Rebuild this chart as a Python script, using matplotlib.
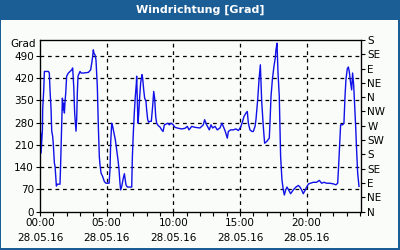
import numpy as np
import matplotlib.pyplot as plt
from matplotlib.patches import Rectangle

# Wind direction over the day (hours since 00:00, degrees on an unwrapped scale)
hours = [0.05, 0.08, 0.18, 0.2, 0.28, 0.33, 0.63, 0.7, 0.75, 0.83, 0.88, 0.95, 1.0, 1.08, 1.13,
         1.18, 1.23, 1.3, 1.5, 1.55, 1.63, 1.68, 1.73, 1.78, 1.83, 1.88, 1.93, 2.0, 2.13, 2.25,
         2.38, 2.45, 2.53, 2.6, 2.7, 2.75, 2.8, 2.85, 3.0, 3.08, 3.25, 3.63, 3.8, 3.88, 3.95,
         4.0, 4.05, 4.13, 4.2, 4.3, 4.38, 4.45, 4.5, 4.58, 4.7, 4.83, 4.95, 5.05, 5.18, 5.25,
         5.3, 5.38, 5.45, 5.55, 5.65, 5.75, 5.85, 5.93, 6.0, 6.05, 6.13, 6.25, 6.33, 6.45, 6.55,
         6.88, 6.93, 7.0, 7.08, 7.15, 7.23, 7.25, 7.35, 7.4, 7.48, 7.55, 7.65, 7.7, 7.78, 7.85,
         7.95, 8.0, 8.08, 8.15, 8.25, 8.35, 8.45, 8.53, 8.6, 8.68, 8.75, 8.88, 9.0, 9.13, 9.23,
         9.33, 9.45, 9.58, 9.7, 9.83, 9.95, 10.13, 10.38, 10.63, 10.88, 11.05, 11.18, 11.38,
         11.63, 12.0, 12.25, 12.35, 12.5, 12.7, 12.83, 12.95, 13.13, 13.3, 13.5, 13.65, 13.75,
         13.9, 14.05, 14.13, 14.3, 14.5, 14.7, 14.88, 15.05, 15.2, 15.3, 15.45, 15.55, 15.63,
         15.75, 15.9, 16.0, 16.13, 16.2, 16.33, 16.43, 16.53, 16.63, 16.75, 16.85, 17.0, 17.2,
         17.25, 17.33, 17.43, 17.55, 17.65, 17.7, 17.78, 17.85, 17.95, 18.0, 18.05, 18.15,
         18.25, 18.33, 18.43, 18.53, 18.65, 18.8, 19.0, 19.2, 19.38, 19.5, 19.63, 19.75, 19.9,
         20.0, 20.15, 20.3, 20.5, 20.75, 20.95, 21.13, 21.3, 21.5, 21.75, 22.0, 22.2, 22.33,
         22.4, 22.48, 22.55, 22.7, 22.8, 22.88, 22.95, 23.05, 23.13, 23.2, 23.3, 23.38, 23.45,
         23.53, 23.6, 23.68, 23.75, 23.83, 23.93]
values = [247, 184, 257, 321, 383, 441, 441, 436, 383, 321, 253, 237, 211, 152, 142,
          111, 80, 86, 86, 152, 278, 357, 320, 341, 310, 347, 373, 426, 436, 441,
          446, 452, 394, 310, 253, 289, 373, 426, 441, 436, 436, 438, 446, 467, 488,
          509, 498, 493, 477, 394, 263, 173, 147, 121, 110, 94, 89, 89, 89, 131,
          215, 278, 268, 247, 226, 194, 163, 131, 89, 68, 79, 105, 119, 84, 77,
          77, 173, 247, 315, 362, 405, 426, 278, 305, 362, 405, 431, 420, 383, 357,
          347, 320, 289, 281, 284, 284, 331, 378, 357, 299, 278, 270, 266, 257, 252,
          273, 275, 278, 273, 278, 275, 265, 262, 260, 262, 268, 257, 268,
          265, 263, 273, 289, 273, 257, 273, 263, 268, 257, 263, 278, 268,
          252, 231, 252, 257, 257, 260, 255, 265, 284, 299, 310, 315, 278,
          257, 252, 252, 268, 289, 352, 415, 462, 347, 268, 215, 220, 231,
          278, 362, 415, 457, 483, 509, 530, 441, 362, 268, 173, 100,
          68, 52, 68, 77, 68, 56, 68, 77, 82, 77, 68, 56, 68,
          77, 87, 89, 92, 92, 98, 89, 92, 89, 89, 87, 84, 89,
          142, 215, 273, 273, 278, 362, 415, 449, 455, 441, 405, 383, 436,
          399, 341, 268, 194, 121, 79]

left_ticks = [0, 70, 140, 210, 280, 350, 420, 490]
right_ticks = [0, 45, 90, 135, 180, 225, 270, 315, 360, 405, 450, 495, 540]
right_labels = ['N', 'NE', 'E', 'SE', 'S', 'SW', 'W', 'NW', 'N', 'NE', 'E', 'SE', 'S']
x_major = [0, 5, 10, 15, 20]
x_labels = ['00:00\n28.05.16', '05:00\n28.05.16', '10:00\n28.05.16',
            '15:00\n28.05.16', '20:00\n28.05.16']

frame_blue = '#1B5E95'
bg = '#FAFCFA'

fig = plt.figure(figsize=(4, 2.5), dpi=100, facecolor=frame_blue)
# inner white panel with a thin blue frame, title bar on top
fig.patches.append(Rectangle((1 / 400, 2 / 250), 397 / 400, 228 / 250,
                             transform=fig.transFigure, facecolor=bg,
                             edgecolor='none', zorder=-10))
fig.text(0.5, 1 - 10 / 250, 'Windrichtung [Grad]', color='white', fontsize=8,
         fontweight='bold', ha='center', va='center')

ax = fig.add_axes([40 / 400, 1 - 211.5 / 250, 321 / 400, 171.5 / 250])
ax.set_facecolor(bg)
ax.plot(hours, values, color='#1010E8', linewidth=1.0, zorder=3)

ax.set_xlim(0, 24.08)
ax.set_ylim(0, 540)
ax.set_yticks(left_ticks)
ax.set_xticks(x_major)
ax.set_xticklabels(x_labels, linespacing=1.6)
ax.set_xticks(np.arange(0, 25, 1), minor=True)
ax.tick_params(axis='both', labelsize=7.5, length=3, width=0.8, pad=1.5)
ax.tick_params(axis='x', which='minor', length=3, width=0.8)
for s in ax.spines.values():
    s.set_linewidth(0.9)

for y in left_ticks[1:]:
    ax.axhline(y, color='black', linewidth=0.9, linestyle=(0, (3, 3)))
for x in x_major[1:]:
    ax.axvline(x, color='black', linewidth=0.9, linestyle=(0, (3, 3)))

ax.text(-0.012, 527, 'Grad', ha='right', va='center', fontsize=7.5,
        transform=ax.get_yaxis_transform())

ax2 = ax.twinx()
ax2.set_ylim(0, 540)
ax2.set_yticks(right_ticks)
ax2.set_yticklabels(right_labels)
ax2.tick_params(axis='y', labelsize=7.5, length=3, width=0.8, pad=1.5)

fig.savefig('out.png', dpi=100, facecolor=frame_blue)
